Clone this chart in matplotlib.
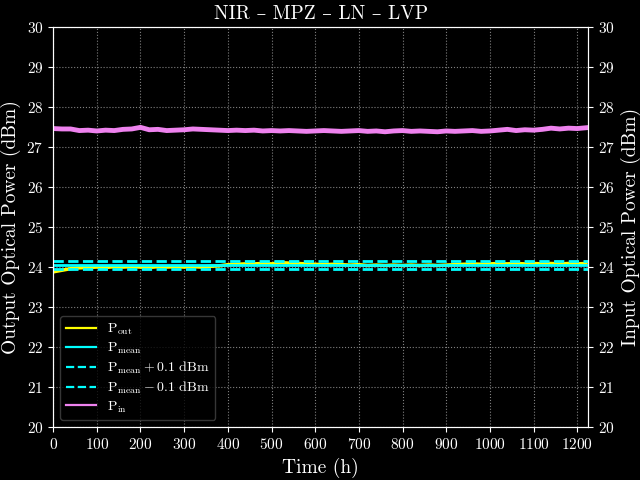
import numpy as np
import matplotlib
matplotlib.use("Agg")
import matplotlib.pyplot as plt

plt.style.use("dark_background")
plt.rcParams["font.family"] = ["cmr10", "DejaVu Serif"]
plt.rcParams["mathtext.fontset"] = "cm"
plt.rcParams["axes.unicode_minus"] = False
plt.rcParams["axes.formatter.use_mathtext"] = True

# time in hours
time_h = np.arange(0, 1221, 20)

p_out = [23.88, 23.92, 23.96, 23.98, 23.99, 24.00, 23.99, 24.01, 24.00, 24.01,
         24.00, 23.99, 24.01, 24.00, 24.01, 24.00, 24.01, 24.00, 24.02, 24.03,
         24.06, 24.07, 24.08, 24.08, 24.09, 24.08, 24.11, 24.10, 24.09, 24.08,
         24.07, 24.06, 24.07, 24.06, 24.05, 24.06, 24.04, 24.05, 24.04, 24.05,
         24.04, 24.05, 24.04, 24.05, 24.04, 24.05, 24.06, 24.07, 24.08, 24.07,
         24.08, 24.09, 24.08, 24.09, 24.08, 24.09, 24.08, 24.09, 24.08, 24.09,
         24.08, 24.09]

p_in = [27.46, 27.45, 27.45, 27.41, 27.42, 27.40, 27.42, 27.41, 27.44, 27.45,
        27.49, 27.43, 27.44, 27.41, 27.42, 27.43, 27.45, 27.44, 27.43, 27.42,
        27.41, 27.42, 27.41, 27.42, 27.40, 27.41, 27.40, 27.41, 27.40, 27.39,
        27.40, 27.41, 27.40, 27.39, 27.40, 27.41, 27.39, 27.40, 27.38, 27.40,
        27.41, 27.39, 27.40, 27.39, 27.38, 27.40, 27.39, 27.40, 27.41, 27.39,
        27.40, 27.42, 27.44, 27.41, 27.43, 27.42, 27.44, 27.47, 27.45, 27.47,
        27.46, 27.48]

p_mean = 24.06
tol = 0.1

fig, ax = plt.subplots(figsize=(6.4, 4.8), dpi=100)
ax2 = ax.twinx()

l1, = ax.plot(time_h, p_out, color="yellow", lw=2.5, label=r"$\mathrm{P}_\mathrm{out}$")
l2 = ax.axhline(p_mean, color="cyan", lw=2, label=r"$\mathrm{P}_\mathrm{mean}$")
l3 = ax.axhline(p_mean + tol, color="cyan", lw=2, ls="--",
                label=r"$\mathrm{P}_\mathrm{mean}+0.1$ dBm")
l4 = ax.axhline(p_mean - tol, color="cyan", lw=2, ls="--",
                label=r"$\mathrm{P}_\mathrm{mean}-0.1$ dBm")
l5, = ax2.plot(time_h, p_in, color="violet", lw=3.5, label=r"$\mathrm{P}_\mathrm{in}$")

for a in (ax, ax2):
    a.set_ylim(20, 30)
    a.set_yticks(np.arange(20, 31, 1))
    a.tick_params(labelsize=11)
ax.set_xlim(0, 1225)
ax.set_xticks(np.arange(0, 1201, 100))
ax.grid(True, ls=":", color="gray", lw=0.8)

ax.set_xlabel("Time (h)", fontsize=14)
ax.set_ylabel("Output Optical Power (dBm)", fontsize=14)
ax2.set_ylabel("Input Optical Power (dBm)", fontsize=14)
ax.set_title("NIR \u2013 MPZ \u2013 LN \u2013 LVP", fontsize=14)

handles = [l1, l2, l3, l4, l5]
leg = ax.legend(handles, [h.get_label() for h in handles], loc="lower left",
                fontsize=10, labelspacing=0.25, handlelength=2.2,
                facecolor="black", edgecolor="#444444")
for ln in leg.get_lines():
    ln.set_linewidth(1.6)

fig.subplots_adjust(left=0.083, right=0.919, top=0.944, bottom=0.110)
fig.savefig("out.png")
